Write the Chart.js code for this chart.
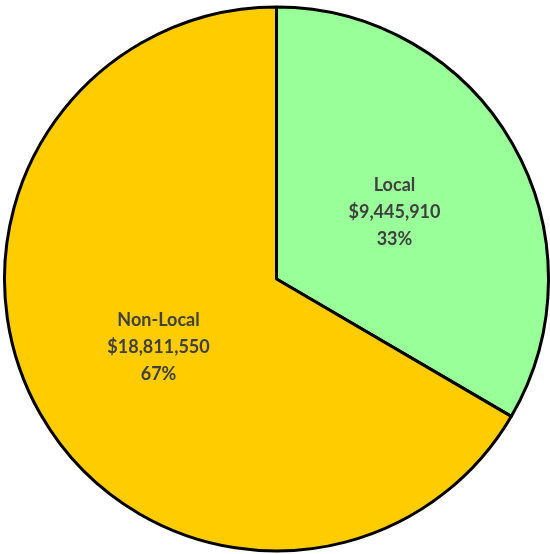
<!DOCTYPE html>
<html>
<head>
<meta charset="utf-8">
<script src="https://cdn.jsdelivr.net/npm/chart.js@4"></script>
<style>
  html, body { margin: 0; padding: 0; background: #fff; }
  canvas { display: block; }
</style>
</head>
<body>
<canvas id="myChart" width="550" height="554"></canvas>
<script>
'use strict';
/*------Chart Data------*/
let categories = ['Local', 'Non-Local'];
let amounts = [9445910, 18811550];
let sliceColors = ['#99FF99', '#FFCC00'];

/*------Slice labels drawn at the middle of each arc------*/
const sliceLabels = {
  id: 'sliceLabels',
  afterDatasetsDraw(chart) {
    const ctx = chart.ctx;
    const meta = chart.getDatasetMeta(0);
    const total = amounts.reduce((a, b) => a + b, 0);
    ctx.save();
    ctx.fillStyle = '#404040';
    ctx.font = 'bold 18px Lato, "Liberation Sans", sans-serif';
    ctx.textAlign = 'center';
    ctx.textBaseline = 'middle';
    meta.data.forEach((arc, i) => {
      const pos = arc.tooltipPosition();
      const lines = [
        categories[i],
        '$' + amounts[i].toLocaleString('en-US'),
        Math.round(amounts[i] / total * 100) + '%'
      ];
      const lineHeight = 27;
      lines.forEach((txt, j) => {
        ctx.fillText(txt, pos.x, pos.y + 1 + (j - 1) * lineHeight);
      });
    });
    ctx.restore();
  }
};

const config = {
  type: 'pie',
  data: {
    labels: categories,
    datasets: [{
      data: amounts,
      backgroundColor: sliceColors,
      borderColor: '#000000',
      borderWidth: 3,
    }],
  },
  options: {
    responsive: false,
    animation: false,
    layout: { padding: { left: 3, right: 0, top: 5, bottom: 1 } },
    plugins: {
      legend: { display: false },
      tooltip: { enabled: false },
    },
  },
  plugins: [sliceLabels],
};
const myChart = new Chart(document.getElementById('myChart'), config);
</script>
</body>
</html>
